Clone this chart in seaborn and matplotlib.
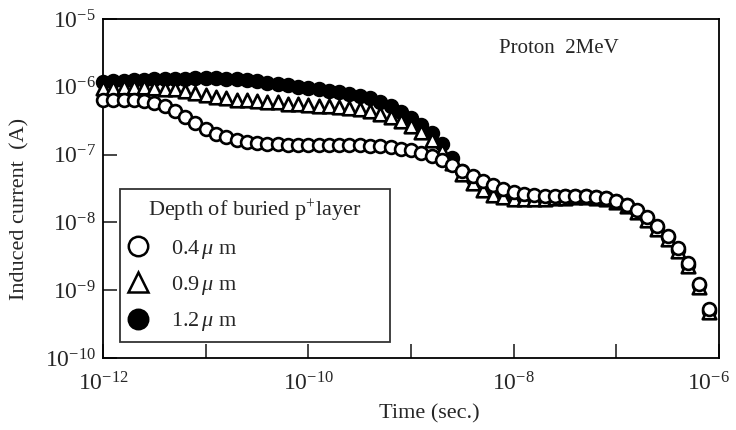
import numpy as np
import pandas as pd
import seaborn as sns
import matplotlib.pyplot as plt
from matplotlib.lines import Line2D
from matplotlib.transforms import ScaledTranslation

# sample times, as log10(t / s)
log_time = [-12.0, -11.9, -11.8, -11.7, -11.6, -11.5, -11.4, -11.3, -11.2, -11.1,
            -11.0, -10.9, -10.8, -10.7, -10.6, -10.5, -10.4, -10.3, -10.2, -10.1,
            -10.0, -9.9, -9.8, -9.7, -9.6, -9.5, -9.4, -9.3, -9.2, -9.1,
            -9.0, -8.9, -8.8, -8.7, -8.6, -8.5, -8.4, -8.3, -8.2, -8.1,
            -8.0, -7.9, -7.8, -7.7, -7.6, -7.5, -7.4, -7.3, -7.2, -7.1,
            -7.0, -6.9, -6.8, -6.7, -6.6, -6.5, -6.4, -6.3, -6.2, -6.1]

# induced current, as log10(I / A), one list per buried-layer depth
log_i_04 = [-6.20, -6.20, -6.20, -6.20, -6.21, -6.24, -6.29, -6.36, -6.44, -6.53,
            -6.62, -6.69, -6.74, -6.78, -6.81, -6.83, -6.84, -6.85, -6.86, -6.86,
            -6.86, -6.86, -6.86, -6.86, -6.86, -6.86, -6.87, -6.88, -6.89, -6.91,
            -6.93, -6.97, -7.02, -7.08, -7.16, -7.24, -7.32, -7.39, -7.45, -7.50,
            -7.55, -7.58, -7.60, -7.61, -7.61, -7.61, -7.61, -7.61, -7.62, -7.64,
            -7.68, -7.74, -7.82, -7.92, -8.05, -8.20, -8.38, -8.60, -8.90, -9.28]

log_i_09 = [-6.02, -6.02, -6.01, -6.01, -6.01, -6.02, -6.03, -6.04, -6.06, -6.09,
            -6.12, -6.15, -6.17, -6.19, -6.20, -6.21, -6.22, -6.23, -6.25, -6.26,
            -6.27, -6.28, -6.29, -6.30, -6.31, -6.33, -6.36, -6.40, -6.45, -6.51,
            -6.58, -6.66, -6.78, -6.95, -7.12, -7.28, -7.42, -7.52, -7.59, -7.63,
            -7.65, -7.65, -7.65, -7.65, -7.64, -7.64, -7.63, -7.63, -7.64, -7.66,
            -7.70, -7.76, -7.85, -7.96, -8.09, -8.24, -8.42, -8.64, -8.95, -9.32]

log_i_12 = [-5.93, -5.92, -5.91, -5.90, -5.90, -5.89, -5.89, -5.88, -5.88, -5.87,
            -5.87, -5.87, -5.88, -5.89, -5.90, -5.92, -5.94, -5.96, -5.98, -6.00,
            -6.02, -6.04, -6.06, -6.08, -6.10, -6.13, -6.17, -6.22, -6.29, -6.37,
            -6.46, -6.56, -6.68, -6.85, -7.05, -7.24, -7.36, -7.45, -7.52, -7.57,
            -7.60, -7.61, -7.62, -7.62, -7.62, -7.61, -7.61, -7.61, -7.62, -7.64,
            -7.68, -7.74, -7.83, -7.94, -8.07, -8.22, -8.40, -8.62, -8.92, -9.30]

depth_labels = [r"0.4$\,\mu$ m", r"0.9$\,\mu$ m", r"1.2$\,\mu$ m"]

sns.set_style("ticks")
plt.rcParams["font.family"] = ["Liberation Serif", "DejaVu Serif"]
plt.rcParams["mathtext.fontset"] = "custom"
plt.rcParams["mathtext.rm"] = "Liberation Serif"
plt.rcParams["mathtext.it"] = "Liberation Serif:italic"

time = 10.0 ** np.array(log_time)
df = pd.DataFrame({
    "time": np.tile(time, 3),
    "current": 10.0 ** np.array(log_i_12 + log_i_09 + log_i_04),
    "depth": np.repeat([depth_labels[2], depth_labels[1], depth_labels[0]], len(time)),
})

fig = plt.figure(figsize=(7.36, 4.30), dpi=100)
ax = fig.add_axes([0.140, 0.167, 0.837, 0.789])

# filled first, then triangles, open circles on top
styles = {
    depth_labels[2]: dict(marker="o", facecolor="black", edgecolor="black", s=85),
    depth_labels[1]: dict(marker="^", facecolor="white", edgecolor="black", s=95),
    depth_labels[0]: dict(marker="o", facecolor="white", edgecolor="black", s=85),
}
for lab in [depth_labels[2], depth_labels[1], depth_labels[0]]:
    sub = df[df["depth"] == lab]
    sns.scatterplot(data=sub, x="time", y="current", ax=ax, linewidth=1.9,
                    legend=False, clip_on=False, zorder=3, **styles[lab])

ax.set_xscale("log")
ax.set_yscale("log")
ax.set_xlim(1e-12, 1e-6)
ax.set_ylim(1e-10, 1e-5)

xt = [10.0 ** e for e in range(-12, -5)]
ax.set_xticks(xt)
ax.set_xticklabels([r"$10^{%d}$" % e if e % 2 == 0 else "" for e in range(-12, -5)])
yt = [10.0 ** e for e in range(-10, -4)]
ax.set_yticks(yt)
ax.set_yticklabels([r"$10^{%d}$" % e for e in range(-10, -4)])
ax.minorticks_off()
ax.tick_params(direction="in", length=10, width=1.2, labelsize=17, pad=5)
ax.tick_params(axis="x", pad=10)
for sp in ax.spines.values():
    sp.set_linewidth(1.3)
    sp.set_color("black")

# keep the last x label inside the figure
last = ax.get_xticklabels()[-1]
last.set_transform(last.get_transform() + ScaledTranslation(-8 / 72, 0, fig.dpi_scale_trans))

ax.set_xlabel("Time (sec.)", fontsize=16)
ax.xaxis.set_label_coords(0.53, -0.135)
ax.set_ylabel("Induced current  (A)", fontsize=16)
ax.yaxis.set_label_coords(-0.12, 0.44)

ax.text(0.74, 0.914, "Proton  2MeV", transform=ax.transAxes, fontsize=15,
        ha="center", va="center")

handles = [
    Line2D([], [], marker="o", ls="none", markersize=14, mfc="white", mec="black", mew=1.8),
    Line2D([], [], marker="^", ls="none", markersize=15, mfc="white", mec="black", mew=1.8),
    Line2D([], [], marker="o", ls="none", markersize=14, mfc="black", mec="black", mew=1.8),
]
leg = ax.legend(handles, depth_labels, title=r"Depth of buried p$^{+}$layer",
                loc="lower left", bbox_to_anchor=(0.0276, 0.047, 0.438, 0.3),
                mode="expand", borderaxespad=0, fontsize=16, title_fontsize=16,
                frameon=True, fancybox=False, edgecolor="black",
                handletextpad=1.1, handlelength=0.8, labelspacing=0.6,
                borderpad=0.4, alignment="center")
leg.get_frame().set_linewidth(1.3)
leg.set_zorder(5)

fig.savefig("out.png", dpi=100)
